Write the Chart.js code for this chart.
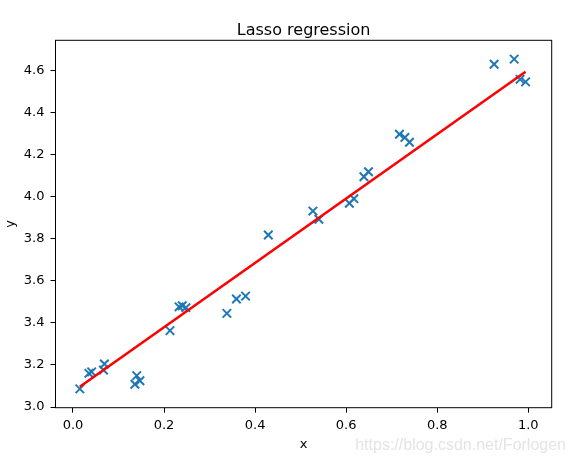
<!DOCTYPE html>
<html lang="en">
<head>
  <meta charset="UTF-8">
  <title>Lasso regression</title>
  <script src="https://cdn.jsdelivr.net/npm/chart.js"></script>
  <style>
    body {
      margin: 0;
      background: #fff;
    }
    canvas {
      display: block;
    }
  </style>
</head>
<body>
  <canvas id="chartLasso" width="575" height="458"></canvas>

  <script>
    // data points
    const xs = [0.015, 0.035, 0.041, 0.069, 0.067, 0.140, 0.147, 0.136, 0.213,
                0.233, 0.240, 0.248, 0.338, 0.359, 0.379, 0.429, 0.527, 0.540,
                0.607, 0.617, 0.639, 0.649, 0.717, 0.729, 0.739, 0.925, 0.969,
                0.982, 0.994];
    const ys = [3.086, 3.160, 3.167, 3.204, 3.176, 3.149, 3.125, 3.108, 3.363,
                3.476, 3.481, 3.472, 3.445, 3.513, 3.527, 3.817, 3.931, 3.892,
                3.968, 3.990, 4.094, 4.118, 4.296, 4.281, 4.258, 4.629, 4.653,
                4.557, 4.545];

    // fitted line (ends)
    const lineXs = [0.015, 0.994];
    const lineYs = [3.096, 4.593];

    const xTicks = [0.0, 0.2, 0.4, 0.6, 0.8, 1.0];
    const yTicks = [3.0, 3.2, 3.4, 3.6, 3.8, 4.0, 4.2, 4.4, 4.6];

    const font = 'DejaVu Sans';

    // frame, title and watermark
    const extras = {
      id: 'extras',
      afterDraw(chart) {
        const { ctx, chartArea: a } = chart;
        ctx.save();
        ctx.strokeStyle = '#000';
        ctx.lineWidth = 1;
        ctx.strokeRect(a.left, a.top, a.right - a.left, a.bottom - a.top);

        ctx.fillStyle = '#000';
        ctx.font = '16px "' + font + '"';
        ctx.textAlign = 'center';
        ctx.textBaseline = 'alphabetic';
        ctx.fillText('Lasso regression', (a.left + a.right) / 2, 35);

        ctx.fillStyle = '#e4e4e4';
        ctx.font = '16px "Liberation Sans"';
        ctx.textAlign = 'right';
        ctx.fillText('https://blog.csdn.net/Forlogen', 566, 450);
        ctx.restore();
      }
    };

    new Chart(document.getElementById('chartLasso'), {
      type: 'scatter',
      data: {
        datasets: [{
          type: 'line',
          data: lineXs.map((x, i) => ({ x: x, y: lineYs[i] })),
          borderColor: '#ff0000',
          borderWidth: 2.6,
          pointRadius: 0,
          fill: false,
          order: 0
        }, {
          data: xs.map((x, i) => ({ x: x, y: ys[i] })),
          pointStyle: 'crossRot',
          pointRadius: 6,
          borderColor: '#1f77b4',
          backgroundColor: '#1f77b4',
          borderWidth: 2,
          order: 1
        }]
      },
      options: {
        responsive: false,
        animation: false,
        layout: { padding: { left: 0, right: 23.3, top: 40.3, bottom: 0 } },
        plugins: {
          legend: { display: false },
          tooltip: { enabled: false }
        },
        scales: {
          x: {
            type: 'linear',
            min: -0.0384,
            max: 1.0514,
            afterBuildTicks: s => { s.ticks = xTicks.map(v => ({ value: v })); },
            afterFit: s => { s.height = 50.3; },
            grid: { drawOnChartArea: false, tickLength: 5, color: '#000' },
            border: { display: false },
            ticks: {
              color: '#000',
              padding: 5,
              maxRotation: 0,
              font: { family: font, size: 13 },
              callback: v => v.toFixed(1)
            },
            title: {
              display: true,
              text: 'x',
              color: '#000',
              font: { family: font, size: 13 },
              padding: { top: 0, bottom: 6 }
            }
          },
          y: {
            type: 'linear',
            min: 2.9967,
            max: 4.7425,
            afterBuildTicks: s => { s.ticks = yTicks.map(v => ({ value: v })); },
            afterFit: s => { s.width = 55.5; },
            grid: { drawOnChartArea: false, tickLength: 5, color: '#000' },
            border: { display: false },
            ticks: {
              color: '#000',
              padding: 6,
              font: { family: font, size: 13 },
              callback: v => v.toFixed(1)
            },
            title: {
              display: true,
              text: 'y',
              color: '#000',
              font: { family: font, size: 13 },
              padding: { top: 3, bottom: 0 }
            }
          }
        }
      },
      plugins: [extras]
    });
  </script>
</body>
</html>
